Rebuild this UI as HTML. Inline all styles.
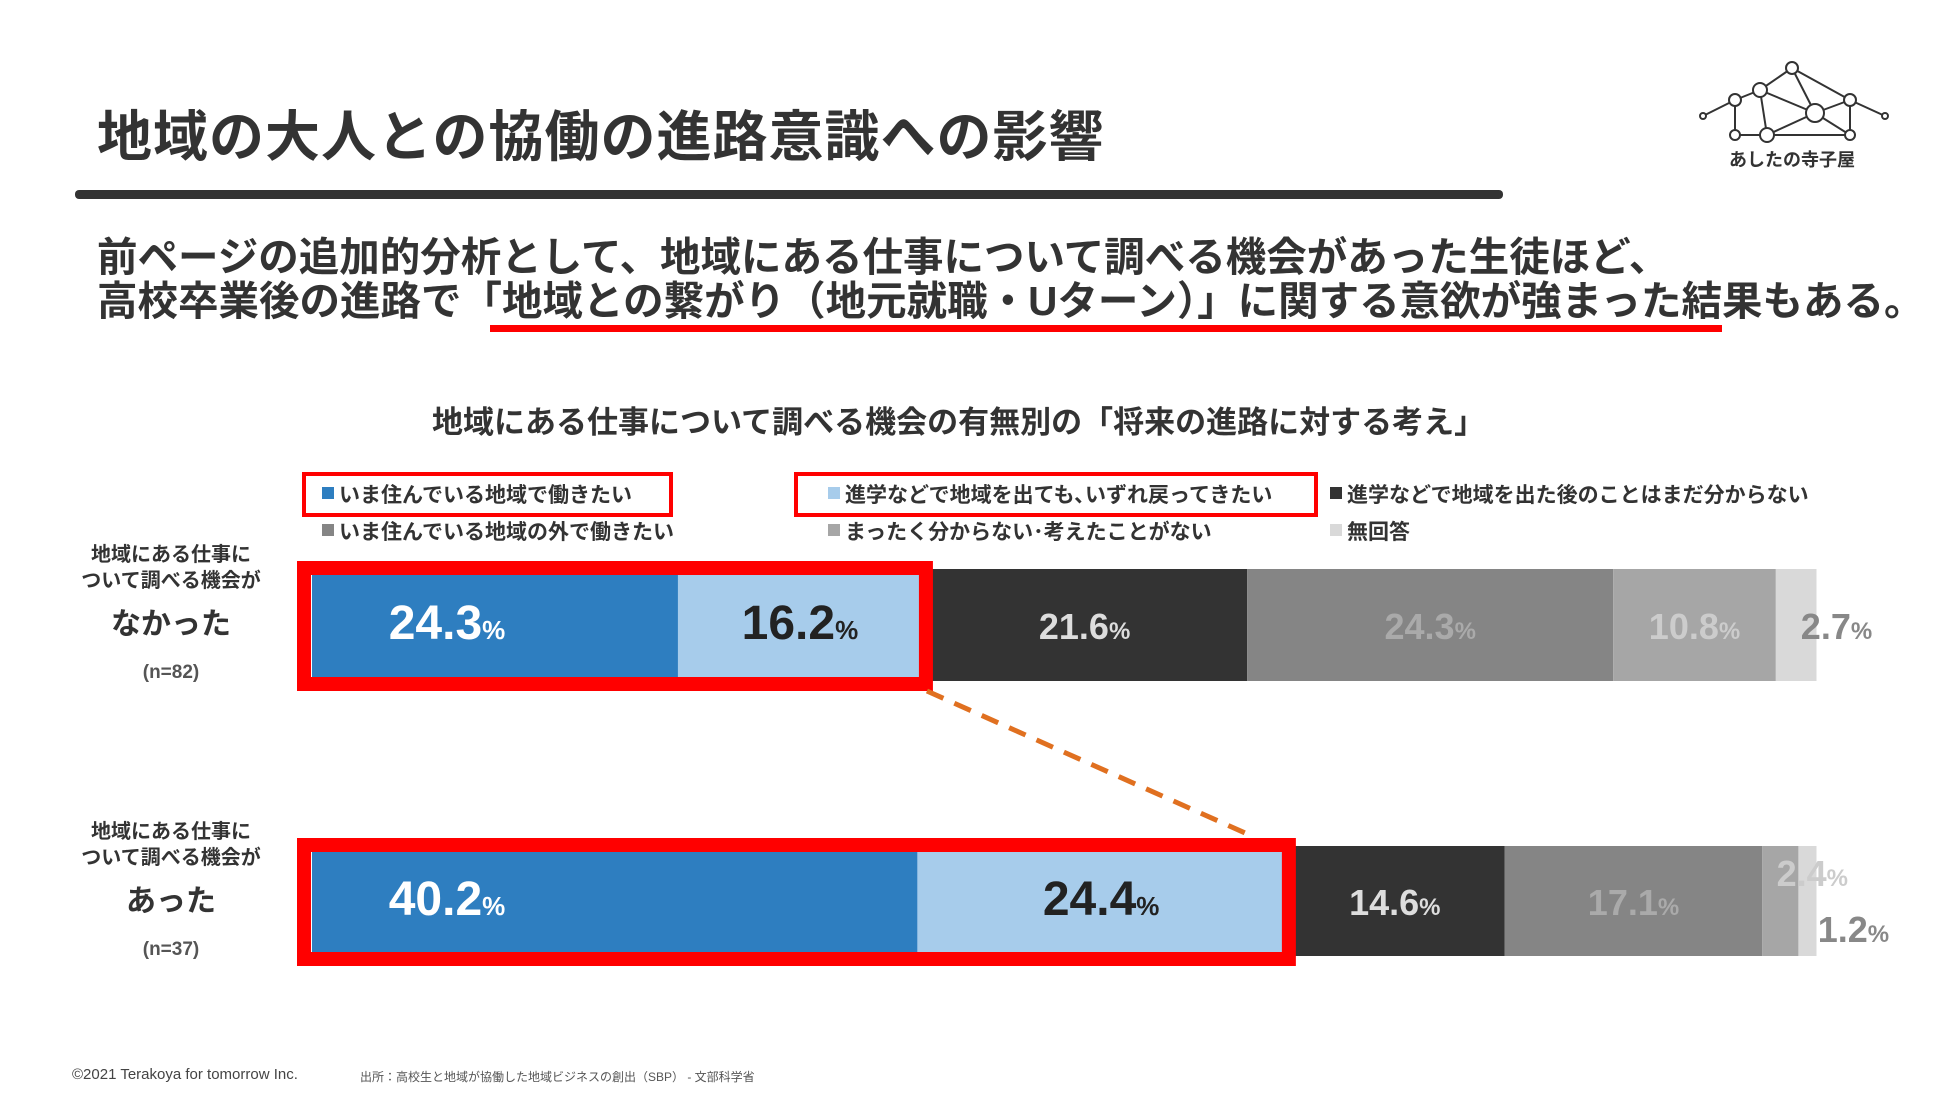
<!DOCTYPE html>
<html><head><meta charset="utf-8"><style>
body{margin:0;width:1950px;height:1098px;background:#fff;position:relative;overflow:hidden;font-family:"Liberation Sans","Noto Sans CJK JP",sans-serif;color:#333}
.a{position:absolute;white-space:nowrap}
</style></head><body>
<div class="a" style="left:97px;top:92px;font-size:55px;font-weight:bold;color:#333;letter-spacing:1px">地域の大人との協働の進路意識への影響</div>
<div class="a" style="left:75px;top:190px;width:1428px;height:9px;background:#333;border-radius:4px"></div>
<svg class="a" style="left:1695px;top:58px" width="200" height="120" viewBox="0 0 200 120">
<g stroke="#333" stroke-width="2" fill="#fff">
<line x1="97" y1="10" x2="65" y2="32"/><line x1="97" y1="10" x2="120" y2="55"/><line x1="97" y1="10" x2="155" y2="42"/>
<line x1="65" y1="32" x2="40" y2="42"/><line x1="65" y1="32" x2="120" y2="55"/><line x1="65" y1="32" x2="72" y2="77"/>
<line x1="40" y1="42" x2="40" y2="77"/><line x1="40" y1="42" x2="8" y2="58"/><line x1="155" y1="42" x2="190" y2="58"/>
<line x1="155" y1="42" x2="155" y2="77"/><line x1="120" y1="55" x2="155" y2="42"/><line x1="120" y1="55" x2="72" y2="77"/>
<line x1="40" y1="77" x2="155" y2="77"/><line x1="120" y1="55" x2="155" y2="77"/>
<circle cx="97" cy="10" r="6"/><circle cx="65" cy="32" r="7"/><circle cx="40" cy="42" r="6"/><circle cx="155" cy="42" r="6"/><circle cx="120" cy="55" r="9"/><circle cx="8" cy="58" r="3"/><circle cx="190" cy="58" r="3"/><circle cx="40" cy="77" r="5"/><circle cx="72" cy="77" r="7"/><circle cx="155" cy="77" r="5"/>
</g>
<text x="97" y="108" text-anchor="middle" font-size="18" font-weight="bold" fill="#333" font-family="Liberation Sans, Noto Sans CJK JP, sans-serif">あしたの寺子屋</text>
</svg>
<div class="a" style="left:97px;top:224px;font-size:40.5px;font-weight:bold;color:#333">前ページの追加的分析として、地域にある仕事について調べる機会があった生徒ほど、</div>
<div class="a" style="left:97px;top:268px;font-size:40.5px;font-weight:bold;color:#333">高校卒業後の進路で「地域との繋がり（地元就職・Uターン）」に関する意欲が強まった結果もある。</div>
<div class="a" style="left:490px;top:325px;width:1232px;height:7px;background:#f00"></div>
<div class="a" style="left:432px;top:397px;font-size:31px;font-weight:bold;color:#333">地域にある仕事について調べる機会の有無別の「将来の進路に対する考え」</div>
<svg class="a" id="chart" style="left:0;top:0" width="1950" height="1098"></svg>
<div class="a" style="left:72px;top:1066px;font-size:15px;color:#444">©2021 Terakoya for tomorrow Inc.</div>
<div class="a" style="left:360px;top:1068px;font-size:12px;color:#555">出所：高校生と地域が協働した地域ビジネスの創出（SBP） - 文部科学省</div>
<script>
const categories=["なかった","あった"];
const sampleSizes=["(n=82)","(n=37)"];
const seriesNames=["いま住んでいる地域で働きたい","進学などで地域を出ても､いずれ戻ってきたい","進学などで地域を出た後のことはまだ分からない","いま住んでいる地域の外で働きたい","まったく分からない･考えたことがない","無回答"];
const rowNone=[24.3,16.2,21.6,24.3,10.8,2.7];
const rowHad=[40.2,24.4,14.6,17.1,2.4,1.2];
const rows=[rowNone,rowHad];
const colors=["#2e7ec0","#a7cceb","#333333","#858585","#a6a6a6","#d9d9d9"];
const textColors=["#fff","#222","#ddd","#aaa","#ccc","#888"];
const NS="http://www.w3.org/2000/svg";
const svg=document.getElementById('chart');
const x0=312,plotW=1506;
const xScale=v=>x0+v/100*plotW;
const rowTop=[569,846],barH=[112,110];
function mk(t,a){const e=document.createElementNS(NS,t);for(const k in a)e.setAttribute(k,a[k]);svg.appendChild(e);return e;}
const legX=[322,828,1330],legY=[494,531];
const legOrder=[0,1,2,3,4,5];
legOrder.forEach((s,i)=>{const cx=legX[i%3],cy=legY[Math.floor(i/3)];
 const r=mk('rect',{x:cx,y:cy-7,width:12,height:12,fill:colors[s]});
 
 const t=mk('text',{x:cx+17,y:cy+8,'font-size':21,fill:'#333','font-weight':'bold'});t.textContent=seriesNames[s];
 
});
[[304,474,367,41],[796,474,520,41]].forEach(b=>{const r=mk('rect',{x:b[0],y:b[1],width:b[2],height:b[3],fill:'none',stroke:'#f00','stroke-width':4});
 });
rows.forEach((vals,ri)=>{let acc=0;const y=rowTop[ri],h=barH[ri];
 vals.forEach((v,si)=>{const xa=xScale(acc),xb=xScale(acc+v);
  const r=mk('rect',{x:xa,y:y,width:xb-xa,height:h,fill:colors[si]});
  
  acc+=v;});
});
rows.forEach((vals,ri)=>{const xe=xScale(vals[0]+vals[1]);const y=rowTop[ri],h=barH[ri];
 const r=mk('rect',{x:x0-8,y:y-1,width:xe-x0+12,height:h+4,fill:'none',stroke:'#f00','stroke-width':14});
 });
{const xa=xScale(rowNone[0]+rowNone[1])+5,xb=xScale(rowHad[0]+rowHad[1])-33;
 const l=mk('line',{x1:xa,y1:rowTop[0]+barH[0]+10,x2:xb,y2:rowTop[1]-10,stroke:'#e07020','stroke-width':5,'stroke-dasharray':'18 12'});
 }
rows.forEach((vals,ri)=>{let acc=0;const y=rowTop[ri],h=barH[ri];
 vals.forEach((v,si)=>{let cx=(xScale(acc)+xScale(acc+v))/2,cy=y+h/2+14;
  if(si===0)cx=xScale(acc)+135;
  const big=si<2;
  if(ri===0&&si===5)cx=xScale(acc+v)+20;
  if(ri===1&&si===4){cx=xScale(acc)+50;cy=y+40;}
  if(ri===1&&si===5){cx=xScale(acc)+55;cy=y+96;}
  const t=mk('text',{x:cx,y:cy,'text-anchor':'middle','font-size':big?48:36,'font-weight':'bold',fill:textColors[si]});
  
  t.textContent=v.toFixed(1);
  const ts=document.createElementNS(NS,'tspan');ts.setAttribute('font-size',big?26:24);ts.textContent='%';t.appendChild(ts);
  acc+=v;});
});
rows.forEach((vals,ri)=>{const cy=rowTop[ri];
 [["地域にある仕事に",-8,20],["ついて調べる機会が",18,20]].forEach(a=>{const t=mk('text',{x:171,y:cy+a[1],'text-anchor':'middle','font-size':a[2],'font-weight':'bold',fill:'#333'});t.textContent=a[0];
  });
 const t=mk('text',{x:171,y:cy+65,'text-anchor':'middle','font-size':30,'font-weight':'bold',fill:'#333'});t.textContent=categories[ri];
 
 const n=mk('text',{x:171,y:cy+109,'text-anchor':'middle','font-size':19,'font-weight':'bold',fill:'#555'});n.textContent=sampleSizes[ri];
 
});
</script>
</body></html>
